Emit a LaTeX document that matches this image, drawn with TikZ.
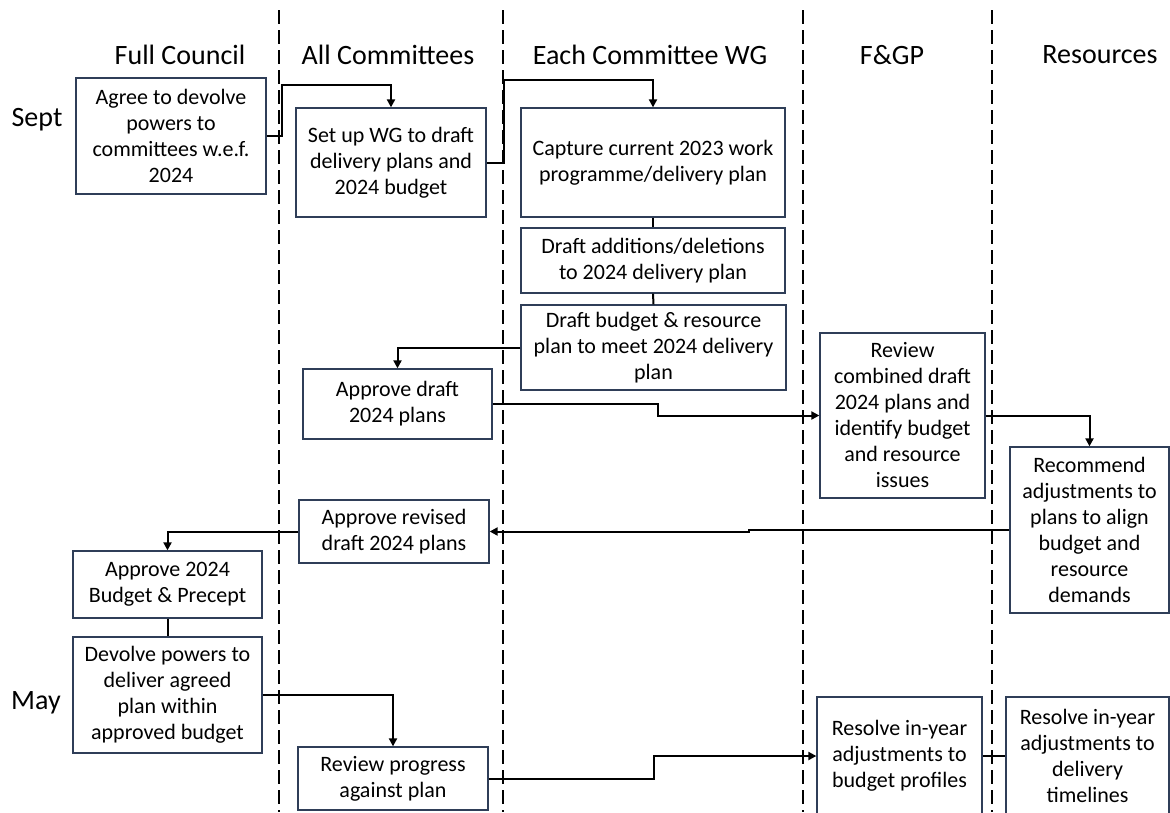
\documentclass[tikz,border=0pt]{standalone}
\usepackage{fontspec}
\setmainfont{Carlito}
\usetikzlibrary{arrows.meta}
\definecolor{boxblue}{RGB}{47,62,88}

\begin{document}
\begin{tikzpicture}[x=1pt, y=-1pt,
				box/.style = {rectangle, draw = boxblue, line width = 1.3pt,
				fill = white, align = center, inner sep = 2pt,
				font = \fontsize{22}{26}\selectfont},
				head/.style = {font = \fontsize{28}{32}\selectfont},
				lane/.style = {line width = 2pt, dash pattern = on 14pt off 6pt},
				flow/.style = {line width = 2pt, -{Triangle[width=8pt,length=8pt]}},
				link/.style = {line width = 2pt},
				]
			\useasboundingbox (0,0) rectangle (1170,812);

			% swim lanes
			\foreach \x in {279,503,803,992}
				\draw [lane] (\x,10) -- (\x,812);

			\node [head] (h_1) at (180,55) {Full Council};
			\node [head] (h_2) at (388,55) {All Committees};
			\node [head] (h_3) at (650,55) {Each Committee WG};
			\node [head] (h_4) at (892,55) {F\&GP};
			\node [head] (h_5) at (1100,55) {Resources};

			\node [head] (m_1) at (37,120) {Sept};
			\node [head] (m_2) at (36,703) {May};

			% Full Council
			\node [box, minimum width = 190, minimum height = 116] (fc_1) at (171,136)
			{Agree to devolve\\powers to\\committees w.e.f.\\2024};
			\node [box, minimum width = 189, minimum height = 67] (fc_2) at (167.5,584.5)
			{Approve 2024\\Budget \& Precept};
			\node [box, minimum width = 189, minimum height = 116] (fc_3) at (167.5,695)
			{Devolve powers to\\deliver agreed\\plan within\\approved budget};

			% All Committees
			\node [box, minimum width = 190, minimum height = 109] (ac_1) at (391,162.5)
			{Set up WG to draft\\delivery plans and\\2024 budget};
			\node [box, minimum width = 189, minimum height = 70] (ac_2) at (397.5,404)
			{Approve draft\\2024 plans};
			\node [box, minimum width = 190, minimum height = 63] (ac_3) at (394,531.5)
			{Approve revised\\draft 2024 plans};
			\node [box, minimum width = 190, minimum height = 63] (ac_4) at (393,778.5)
			{Review progress\\against plan};

			% Each Committee WG
			\node [box, minimum width = 264, minimum height = 109] (wg_1) at (653,162.5)
			{Capture current 2023 work\\programme/delivery plan};
			\node [box, minimum width = 264, minimum height = 65] (wg_2) at (653,260.5)
			{Draft additions/deletions\\to 2024 delivery plan};
			\node [box, minimum width = 265, minimum height = 85] (wg_3) at (653.5,347.5)
			{Draft budget \& resource\\plan to meet 2024 delivery\\plan};

			% F&GP
			\node [box, minimum width = 165, minimum height = 165] (fg_1) at (902.5,415.5)
			{Review\\combined draft\\2024 plans and\\identify budget\\and resource\\issues};
			\node [box, minimum width = 165, minimum height = 118] (fg_2) at (899.5,756)
			{Resolve in-year\\adjustments to\\budget profiles};

			% Resources
			\node [box, minimum width = 159, minimum height = 166] (rs_1) at (1089.5,530)
			{Recommend\\adjustments to\\plans to align\\budget and\\resource\\demands};
			\node [box, minimum width = 163, minimum height = 118] (rs_2) at (1087.5,756)
			{Resolve in-year\\adjustments to\\delivery\\timelines};

			% connectors
			\draw [flow] (fc_1.east) -- ++(15,0) |- ([yshift=22pt]ac_1.north) -- (ac_1.north);
			\draw [flow] (ac_1.east) -- ++(17,0) |- ([yshift=27pt]wg_1.north) -- (wg_1.north);
			\draw [link] (wg_1.south) -- (wg_2.north);
			\draw [link] (wg_2.south) -- (wg_3.north);
			\draw [flow] (wg_3.west) -| (ac_2.north);
			\draw [flow] (ac_2.east) -- ++(165,0) |- (fg_1.west);
			\draw [flow] (fg_1.east) -| (rs_1.north);
			\draw [flow] (rs_1.west) -- ++(-260,0) |- (ac_3.east);
			\draw [flow] (ac_3.west) -| (fc_2.north);
			\draw [link] (fc_2.south) -- (fc_3.north);
			\draw [flow] (fc_3.east) -| (ac_4.north);
			\draw [flow] (ac_4.east) -- ++(165,0) |- (fg_2.west);
			\draw [link] (fg_2.east) -- (rs_2.west);
		\end{tikzpicture}
\end{document}
